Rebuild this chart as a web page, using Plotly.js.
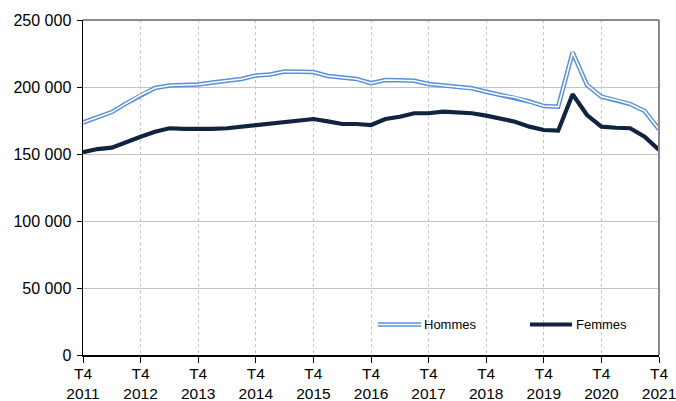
<!DOCTYPE html>
<html>
<head>
<meta charset="utf-8">
<script src="https://cdn.plot.ly/plotly-3.0.1.min.js"></script>
<style>
  html, body { margin: 0; padding: 0; background: #fff; }
  #chart { width: 676px; height: 401px; }
</style>
</head>
<body>
<div id="chart"></div>
<script>
// Quarters from T4 2011 to T4 2021
const quarters = [];
for (let y = 2011; y <= 2021; y++) {
  for (let q = 1; q <= 4; q++) {
    if ((y === 2011 && q < 4) || (y === 2021 && q > 4)) continue;
    quarters.push("T" + q + " " + y);
  }
}
const tickLabels = ["T4<br>2011","T4<br>2012","T4<br>2013","T4<br>2014","T4<br>2015","T4<br>2016","T4<br>2017","T4<br>2018","T4<br>2019","T4<br>2020","T4<br>2021"];
const tickQuarters = ["T4 2011","T4 2012","T4 2013","T4 2014","T4 2015","T4 2016","T4 2017","T4 2018","T4 2019","T4 2020","T4 2021"];

const hommes = [173500, 177600, 181300, 187800, 194000, 199300, 201100, 201500, 201900, 203400,
                204800, 206000, 208600, 209300, 211600, 211600, 211200, 208200, 207100, 206000,
                202800, 205200, 205000, 204700, 202200, 201100, 200200, 199000, 196500, 194000,
                192300, 189200, 185800, 185300, 225800, 201500, 192800, 190300, 187300, 182100,
                168400];
const femmes = [151300, 153700, 154700, 159000, 162900, 166600, 169200, 168700, 168400, 168700,
                169200, 170400, 170900, 172200, 173700, 174800, 176100, 174300, 172400, 172400,
                171600, 176100, 177800, 180400, 180400, 181600, 180800, 180400, 178600, 176600,
                174100, 170400, 167900, 167400, 194600, 179100, 170400, 169600, 169200, 162900,
                153000];

const blue = "#5b8fd8";
const navy = "#10243f";
const font = "Liberation Sans, Arial, sans-serif";

const traces = [
  { x: quarters, y: hommes, type: "scatter", mode: "lines", name: "Hommes",
    line: { color: blue, width: 4.5 }, showlegend: false, hoverinfo: "skip" },
  { x: quarters, y: hommes, type: "scatter", mode: "lines", name: "Hommes",
    line: { color: "#ffffff", width: 1.6 }, showlegend: false, hoverinfo: "skip" },
  { x: quarters, y: femmes, type: "scatter", mode: "lines", name: "Femmes",
    line: { color: navy, width: 4.2 }, showlegend: false, hoverinfo: "skip" }
];

const layout = {
  width: 676, height: 401,
  margin: { l: 83, r: 17, t: 20, b: 46 },
  paper_bgcolor: "#fff", plot_bgcolor: "#fff",
  separators: ", ",
  font: { family: font, size: 16, color: "#000" },
  showlegend: false,
  xaxis: {
    type: "category",
    categoryorder: "array", categoryarray: quarters,
    range: [0, quarters.length - 1],
    tickmode: "array", tickvals: tickQuarters, ticktext: tickLabels,
    ticks: "outside", ticklen: 6, tickcolor: "#000", tickwidth: 1,
    ticklabelstandoff: -2,
    showline: true, linecolor: "#000", linewidth: 1.5,
    showgrid: true, gridcolor: "#c8c8c8", griddash: "dot", gridwidth: 1,
    zeroline: false,
    tickfont: { family: font, size: 15.5, color: "#000" },
    fixedrange: true
  },
  yaxis: {
    range: [0, 250000],
    tickmode: "linear", tick0: 0, dtick: 50000,
    tickformat: ",d",
    ticks: "outside", ticklen: 5, tickcolor: "#000", tickwidth: 1,
    ticklabelstandoff: 2,
    showline: true, linecolor: "#000", linewidth: 1.5,
    showgrid: true, gridcolor: "#c4c4c4", gridwidth: 1,
    zeroline: false,
    tickfont: { family: font, size: 16, color: "#000" },
    fixedrange: true
  },
  shapes: [
    // top and right border of plot area
    { type: "line", xref: "paper", yref: "paper", x0: 0, x1: 1, y0: 1, y1: 1,
      line: { color: "#8a8a8a", width: 2 } },
    { type: "line", xref: "paper", yref: "paper", x0: 1, x1: 1, y0: 0, y1: 1,
      line: { color: "#8a8a8a", width: 2 } },
    // legend samples
    { type: "line", xref: "paper", yref: "paper", x0: 0.512, x1: 0.587, y0: 0.091, y1: 0.091,
      line: { color: blue, width: 4.5 } },
    { type: "line", xref: "paper", yref: "paper", x0: 0.512, x1: 0.587, y0: 0.091, y1: 0.091,
      line: { color: "#ffffff", width: 1.6 } },
    { type: "line", xref: "paper", yref: "paper", x0: 0.776, x1: 0.849, y0: 0.091, y1: 0.091,
      line: { color: navy, width: 4.2 } }
  ],
  annotations: [
    { xref: "paper", yref: "paper", x: 0.589, y: 0.091, xanchor: "left", yanchor: "middle",
      text: "Hommes", showarrow: false, font: { family: font, size: 13, color: "#000" } },
    { xref: "paper", yref: "paper", x: 0.853, y: 0.091, xanchor: "left", yanchor: "middle",
      text: "Femmes", showarrow: false, font: { family: font, size: 13, color: "#000" } }
  ]
};

Plotly.newPlot("chart", traces, layout, { staticPlot: true, displayModeBar: false });
</script>
</body>
</html>
